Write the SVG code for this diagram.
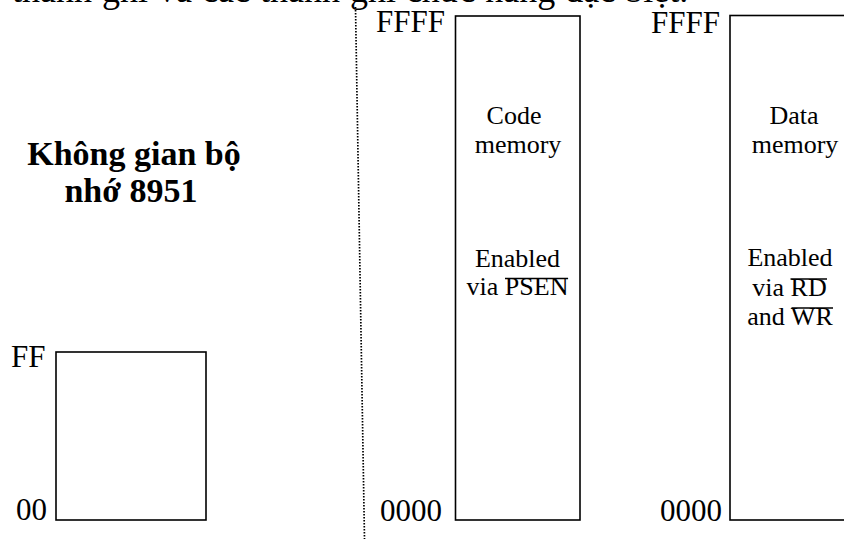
<svg xmlns="http://www.w3.org/2000/svg" width="844" height="539" viewBox="0 0 844 539">
<style>
text{font-family:"Liberation Serif","Times New Roman",serif;fill:#000}
.lbl{font-size:31px}
.mid{font-size:26px;text-anchor:middle}
.end{text-anchor:end}
.ttl{font-size:34px;font-weight:bold;text-anchor:middle}
.box{fill:#fff;stroke:#000;stroke-width:1.6}
.ovl{stroke:#000;stroke-width:1.4}
</style>
<rect width="844" height="539" fill="#fff"/>
<text x="12" y="2" style="font-size:36px;word-spacing:1px">thanh ghi và các thanh ghi chức năng đặc biệt.</text>
<g id="connectors">
<line x1="355.5" y1="7" x2="364.5" y2="539" stroke="#000" stroke-width="1.7" stroke-dasharray="1.5 1.5"/>
</g>
<g id="title">
<text class="ttl" x="134" y="165">Không gian bộ</text>
<text class="ttl" x="131" y="202">nhớ 8951</text>
</g>
<g id="internal-ram">
<rect class="box" x="56" y="352" width="150" height="168"/>
<text class="lbl end" x="45.5" y="367">FF</text>
<text class="lbl end" x="47" y="520">00</text>
</g>
<g id="code-memory">
<rect class="box" x="455.5" y="16" width="124.5" height="504"/>
<text class="lbl end" x="445" y="32">FFFF</text>
<text class="lbl end" x="442" y="521">0000</text>
<text class="mid" x="514" y="124">Code</text>
<text class="mid" x="518" y="153">memory</text>
<text class="mid" x="517.5" y="267">Enabled</text>
<text class="mid" x="517.5" y="295">via PSEN</text>
<line class="ovl" x1="505" y1="278.5" x2="568" y2="278.5"/>
</g>
<g id="data-memory">
<rect class="box" x="730" y="15.5" width="130" height="504.5"/>
<text class="lbl end" x="720" y="33">FFFF</text>
<text class="lbl end" x="722" y="521">0000</text>
<text class="mid" x="794" y="124">Data</text>
<text class="mid" x="795" y="153">memory</text>
<text class="mid" x="790" y="266">Enabled</text>
<text class="mid" x="789.5" y="296">via RD</text>
<line class="ovl" x1="790.5" y1="279" x2="827" y2="279"/>
<text class="mid" x="790" y="325">and WR</text>
<line class="ovl" x1="791.5" y1="308" x2="833" y2="308"/>
</g>
</svg>
